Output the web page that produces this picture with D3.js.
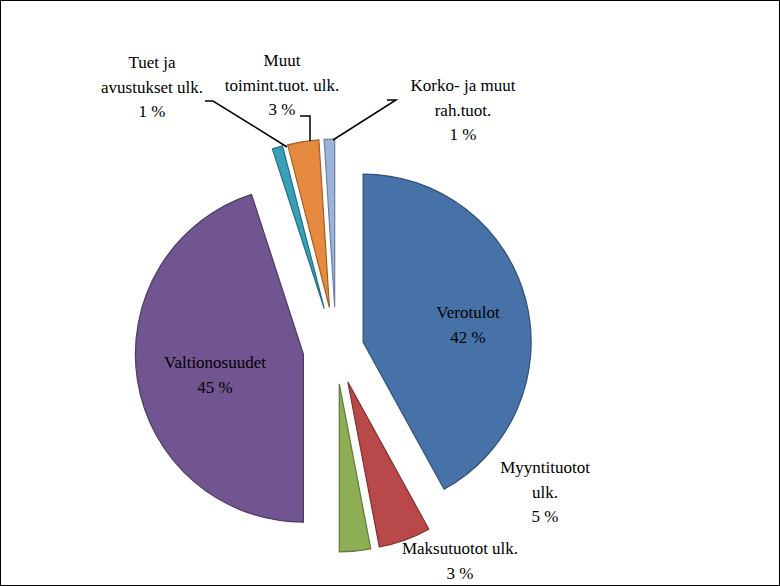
<!DOCTYPE html>
<html>
<head>
<meta charset="utf-8">
<script src="https://cdn.jsdelivr.net/npm/d3@7.9.0/dist/d3.min.js"></script>
<style>
  body { margin: 0; background: #fff; }
  text { font-family: "Liberation Serif", "Times New Roman", serif; font-size: 17px; fill: #000; }
</style>
</head>
<body>
<svg id="chart" width="780" height="586"></svg>
<script>
// Slices in clockwise order from 12 o'clock
const categories = ['Verotulot', 'Myyntituotot ulk.', 'Maksutuotot ulk.', 'Valtionosuudet',
                    'Tuet ja avustukset ulk.', 'Muut toimint.tuot. ulk.', 'Korko- ja muut rah.tuot.'];
const values = [42, 5, 3, 45, 1, 3, 1];
const labelLines = [
    ['Verotulot', '42 %'],
    ['Myyntituotot', 'ulk.', '5 %'],
    ['Maksutuotot ulk.', '3 %'],
    ['Valtionosuudet', '45 %'],
    ['Tuet ja', 'avustukset ulk.', '1 %'],
    ['Muut', 'toimint.tuot. ulk.', '3 %'],
    ['Korko- ja muut', 'rah.tuot.', '1 %'],
];

const colors = ['#4672a8', '#b9484a', '#8eae55', '#715590', '#3a9fb8', '#e58a3f', '#9db3d9'];
const strokes = ['#2f5077', '#7f3030', '#607a38', '#4b3a63', '#236f82', '#a25e26', '#6a7fa3'];
const explode = [28, 35, 35, 33, 42, 42, 42];
const labelPos = [[468, 312], [545, 467], [460, 548], [215, 362], [152, 62], [282, 60], [463, 85]];
const leaders = [null, null, null, null,
    [[205, 101], [213, 101], [287, 147]],
    [[300, 116], [310, 116], [310, 141]],
    [[387, 100], [396, 100], [333, 140]]];

const svg = d3.select('#chart');
svg.append('rect').attr('x', 0.5).attr('y', 0.5).attr('width', 779).attr('height', 585)
    .attr('fill', '#fff').attr('stroke', '#000');

const cx = 336, cy = 349, r = 168;
const pie = d3.pie().sort(null).value((d) => d)(values);
const arc = d3.arc().innerRadius(0).outerRadius(r);

const g = svg.append('g').attr('transform', `translate(${cx},${cy})`);
g.selectAll('path')
    .data(pie)
    .join('path')
    .attr('d', arc)
    .attr('fill', (d, i) => colors[i])
    .attr('stroke', (d, i) => strokes[i])
    .attr('stroke-width', 1.2)
    .attr('transform', (d, i) => {
        const a = (d.startAngle + d.endAngle) / 2;
        return `translate(${Math.sin(a) * explode[i]},${-Math.cos(a) * explode[i]})`;
    });

// Leader lines
leaders.forEach((pts) => {
    if (!pts) return;
    svg.append('path').attr('d', d3.line()(pts))
        .attr('fill', 'none').attr('stroke', '#000').attr('stroke-width', 1.5);
});

// Labels
labelLines.forEach((lines, i) => {
    const t = svg.append('text').attr('text-anchor', 'middle')
        .attr('x', labelPos[i][0]).attr('y', labelPos[i][1]);
    lines.forEach((s, j) => {
        t.append('tspan').attr('x', labelPos[i][0]).attr('dy', j === 0 ? 6 : 24.5).text(s);
    });
});
</script>
</body>
</html>
